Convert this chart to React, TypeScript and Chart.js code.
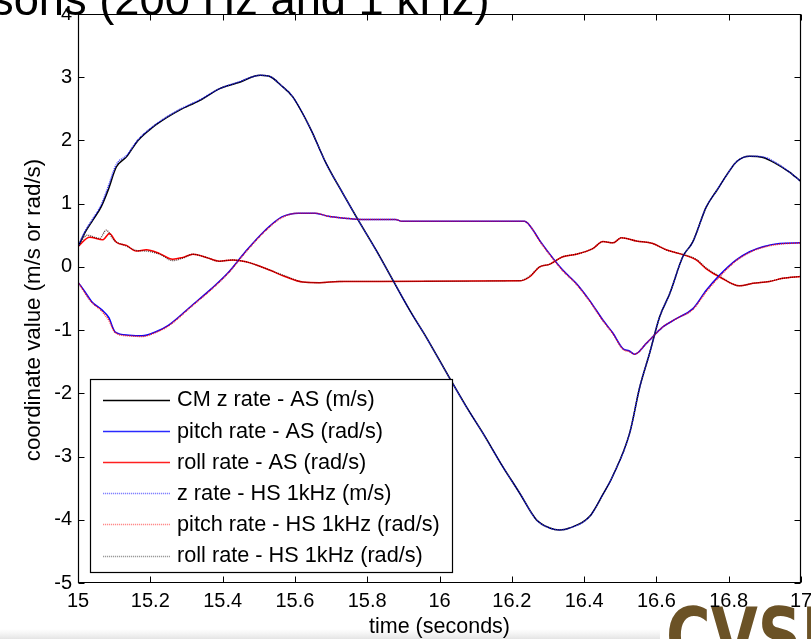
import { useEffect, useRef } from "react";
import { Chart, registerables } from "chart.js";

Chart.register(...registerables);

type Pt = [number, number];

// Axis ticks
const xTicks = [15, 15.2, 15.4, 15.6, 15.8, 16, 16.2, 16.4, 16.6, 16.8, 17];
const yTicks = [-5, -4, -3, -2, -1, 0, 1, 2, 3, 4];

// Rates sampled at 200 Hz (AS), time in seconds
const zRateAS: Pt[] = [
  [15.0, 0.32], [15.02, 0.55], [15.041, 0.74], [15.064, 0.95], [15.083, 1.21],
  [15.106, 1.58], [15.134, 1.74], [15.166, 2.0], [15.207, 2.21], [15.245, 2.36],
  [15.281, 2.48], [15.336, 2.63], [15.392, 2.82], [15.447, 2.92], [15.49, 3.02],
  [15.505, 3.03], [15.535, 3.0], [15.56, 2.88], [15.594, 2.69], [15.641, 2.21],
  [15.687, 1.63], [15.733, 1.16], [15.77, 0.79], [15.825, 0.26], [15.871, -0.21],
  [15.917, -0.68], [15.963, -1.11], [16.028, -1.76], [16.074, -2.21], [16.12, -2.63],
  [16.175, -3.16], [16.222, -3.58], [16.268, -4.0], [16.305, -4.13], [16.332, -4.16],
  [16.36, -4.13], [16.415, -3.95], [16.452, -3.6], [16.48, -3.3], [16.526, -2.63],
  [16.554, -1.9], [16.581, -1.37], [16.609, -0.79], [16.637, -0.42], [16.673, 0.16],
  [16.701, 0.4], [16.738, 0.95], [16.766, 1.2], [16.793, 1.44], [16.821, 1.66],
  [16.858, 1.75], [16.895, 1.73], [16.932, 1.63], [16.968, 1.5], [17.0, 1.35],
];

const pitchRateAS: Pt[] = [
  [15.0, -0.24], [15.02, -0.4], [15.038, -0.55], [15.066, -0.68], [15.085, -0.8],
  [15.103, -1.03], [15.14, -1.08], [15.177, -1.09], [15.214, -1.03], [15.251, -0.92],
  [15.315, -0.61], [15.37, -0.34], [15.417, -0.08], [15.463, 0.24], [15.518, 0.58],
  [15.564, 0.79], [15.61, 0.85], [15.656, 0.85], [15.693, 0.8], [15.739, 0.77],
  [15.785, 0.75], [15.878, 0.75], [15.896, 0.72], [16.235, 0.72], [16.249, 0.66],
  [16.277, 0.42], [16.304, 0.21], [16.341, -0.05], [16.378, -0.26], [16.415, -0.53],
  [16.452, -0.84], [16.48, -1.05], [16.507, -1.29], [16.525, -1.33], [16.54, -1.38],
  [16.572, -1.21], [16.618, -0.95], [16.655, -0.82], [16.701, -0.66], [16.738, -0.37],
  [16.775, -0.13], [16.821, 0.11], [16.858, 0.24], [16.895, 0.32], [16.941, 0.37],
  [17.0, 0.38],
];

const rollRateAS: Pt[] = [
  [15.0, 0.32], [15.032, 0.47], [15.069, 0.43], [15.087, 0.53], [15.106, 0.39],
  [15.134, 0.34], [15.161, 0.25], [15.189, 0.27], [15.226, 0.21], [15.262, 0.12],
  [15.29, 0.15], [15.318, 0.2], [15.355, 0.15], [15.391, 0.09], [15.428, 0.11],
  [15.465, 0.08], [15.521, -0.03], [15.576, -0.16], [15.622, -0.24], [15.668, -0.25],
  [15.724, -0.23], [16.221, -0.22], [16.249, -0.16], [16.277, 0.0], [16.304, 0.04],
  [16.341, 0.16], [16.378, 0.2], [16.424, 0.29], [16.452, 0.4], [16.48, 0.38],
  [16.503, 0.46], [16.544, 0.41], [16.59, 0.37], [16.627, 0.27], [16.664, 0.21],
  [16.71, 0.11], [16.738, -0.03], [16.775, -0.16], [16.83, -0.3], [16.867, -0.26],
  [16.913, -0.23], [16.95, -0.18], [17.0, -0.15],
];

// Same rates sampled at 1 kHz (HS)
const zRateHS: Pt[] = [
  [15.0, 0.32], [15.02, 0.57], [15.041, 0.76], [15.064, 0.98], [15.083, 1.26],
  [15.106, 1.62], [15.134, 1.76], [15.166, 2.01], [15.207, 2.22], [15.245, 2.37],
  [15.281, 2.49], [15.336, 2.64], [15.392, 2.82], [15.447, 2.93], [15.49, 3.02],
  [15.505, 3.03], [15.535, 3.0], [15.56, 2.88], [15.594, 2.69], [15.641, 2.21],
  [15.687, 1.63], [15.733, 1.16], [15.77, 0.79], [15.825, 0.26], [15.871, -0.21],
  [15.917, -0.68], [15.963, -1.11], [16.028, -1.76], [16.074, -2.21], [16.12, -2.63],
  [16.175, -3.16], [16.222, -3.58], [16.268, -4.0], [16.305, -4.13], [16.332, -4.16],
  [16.36, -4.13], [16.415, -3.95], [16.452, -3.6], [16.48, -3.3], [16.526, -2.63],
  [16.554, -1.9], [16.581, -1.37], [16.609, -0.79], [16.637, -0.42], [16.673, 0.16],
  [16.701, 0.4], [16.738, 0.95], [16.766, 1.2], [16.793, 1.44], [16.821, 1.66],
  [16.858, 1.75], [16.895, 1.74], [16.932, 1.64], [16.968, 1.5], [17.0, 1.35],
];

const pitchRateHS: Pt[] = [
  [15.0, -0.24], [15.02, -0.42], [15.038, -0.56], [15.066, -0.7], [15.085, -0.84],
  [15.103, -1.04], [15.14, -1.09], [15.177, -1.1], [15.214, -1.04], [15.251, -0.93],
  [15.315, -0.62], [15.37, -0.35], [15.417, -0.09], [15.463, 0.23], [15.518, 0.57],
  [15.564, 0.78], [15.61, 0.85], [15.656, 0.85], [15.693, 0.8], [15.739, 0.77],
  [15.785, 0.75], [15.878, 0.75], [15.896, 0.72], [16.235, 0.72], [16.249, 0.66],
  [16.277, 0.41], [16.304, 0.2], [16.341, -0.06], [16.378, -0.27], [16.415, -0.54],
  [16.452, -0.85], [16.48, -1.06], [16.507, -1.3], [16.525, -1.34], [16.54, -1.38],
  [16.572, -1.21], [16.618, -0.95], [16.655, -0.82], [16.701, -0.67], [16.738, -0.39],
  [16.775, -0.15], [16.821, 0.1], [16.858, 0.23], [16.895, 0.31], [16.941, 0.36],
  [17.0, 0.38],
];

const rollRateHS: Pt[] = [
  [15.0, 0.32], [15.025, 0.5], [15.06, 0.45], [15.078, 0.58], [15.1, 0.42],
  [15.134, 0.33], [15.161, 0.26], [15.189, 0.25], [15.226, 0.2], [15.262, 0.1],
  [15.29, 0.14], [15.318, 0.2], [15.355, 0.15], [15.391, 0.09], [15.428, 0.11],
  [15.465, 0.08], [15.521, -0.03], [15.576, -0.15], [15.622, -0.24], [15.668, -0.25],
  [15.724, -0.23], [16.221, -0.22], [16.249, -0.15], [16.277, 0.0], [16.304, 0.04],
  [16.341, 0.16], [16.378, 0.2], [16.424, 0.29], [16.452, 0.4], [16.48, 0.38],
  [16.503, 0.46], [16.544, 0.41], [16.59, 0.37], [16.627, 0.27], [16.664, 0.21],
  [16.71, 0.12], [16.738, -0.02], [16.775, -0.15], [16.83, -0.3], [16.867, -0.26],
  [16.913, -0.23], [16.95, -0.18], [17.0, -0.15],
];

const FONT = "'Liberation Sans', Arial, Helvetica, sans-serif";

const toXY = (pts: Pt[]) => pts.map(([x, y]) => ({ x, y }));

const series = [
  { label: "CM z rate - AS (m/s)", data: zRateAS, color: "#000000", width: 1.5, dash: [] as number[], legendColor: "#000000", order: 2 },
  { label: "pitch rate - AS (rad/s)", data: pitchRateAS, color: "#0000ff", width: 1.5, dash: [], legendColor: "#2a2aff", order: 2 },
  { label: "roll rate - AS (rad/s)", data: rollRateAS, color: "#ff0000", width: 1.5, dash: [], legendColor: "#ff2020", order: 2 },
  { label: "z rate - HS 1kHz (m/s)", data: zRateHS, color: "rgba(30,30,255,0.95)", width: 1.5, dash: [1, 1], legendColor: "#8080ff", order: 1 },
  { label: "pitch rate - HS 1kHz (rad/s)", data: pitchRateHS, color: "rgba(255,20,20,0.95)", width: 1.5, dash: [1, 1], legendColor: "#ff8a8a", order: 1 },
  { label: "roll rate - HS 1kHz (rad/s)", data: rollRateHS, color: "rgba(40,0,0,0.75)", width: 1.4, dash: [1, 1], legendColor: "#9a9a9a", order: 1 },
];

const decorations = {
  id: "decorations",
  beforeDraw(chart: any) {
    const { ctx, width, height } = chart;
    ctx.save();
    ctx.fillStyle = "#ffffff";
    ctx.fillRect(0, 0, width, height);

    // faint slide footer strip
    const band = ctx.createLinearGradient(0, 629, 0, 639);
    band.addColorStop(0, "rgba(235,235,235,0)");
    band.addColorStop(1, "rgba(228,228,228,1)");
    ctx.fillStyle = band;
    ctx.fillRect(0, 629, 660, 10);

    // CVS logo, lower right
    ctx.font = `bold 78px 'DejaVu Sans', sans-serif`;
    ctx.textBaseline = "alphabetic";
    ctx.textAlign = "left";
    const g = ctx.createLinearGradient(660, 590, 760, 680);
    const stops = ["#6b5226", "#b3955c", "#5a431c", "#c2a46a", "#4e3a16", "#a8884f", "#604820", "#b89a62", "#503b18"];
    stops.forEach((c, i) => g.addColorStop(i / (stops.length - 1), c));
    ctx.fillStyle = g;
    ctx.save();
    ctx.translate(666, 664);
    ctx.scale(0.78, 1);
    ctx.fillText("CVSL", 0, 0);
    ctx.restore();
    ctx.restore();
  },
  afterDatasetsDraw(chart: any) {
    const { ctx, chartArea: a, scales } = chart;
    const xs = scales.x;
    const ys = scales.y;
    const L = Math.round(a.left) + 0.5;
    const R = Math.round(a.right) - 0.5;
    const T = Math.round(a.top) + 0.5;
    const B = Math.round(a.bottom) - 0.5;
    ctx.save();
    ctx.strokeStyle = "#000";
    ctx.lineWidth = 1.2;
    ctx.beginPath();
    ctx.moveTo(L, T); ctx.lineTo(R, T); ctx.lineTo(R, B); ctx.lineTo(L, B); ctx.closePath();
    ctx.stroke();

    const tl = 6;
    ctx.lineWidth = 1;
    ctx.beginPath();
    xTicks.forEach((v) => {
      const px = Math.round(xs.getPixelForValue(v)) + 0.5;
      ctx.moveTo(px, B); ctx.lineTo(px, B - tl);
      ctx.moveTo(px, T); ctx.lineTo(px, T + tl);
    });
    yTicks.forEach((v) => {
      const py = Math.round(ys.getPixelForValue(v)) + 0.5;
      ctx.moveTo(L, py); ctx.lineTo(L + tl, py);
      ctx.moveTo(R, py); ctx.lineTo(R - tl, py);
    });
    ctx.stroke();

    // legend
    const bx = 90.5, by = 379.5, bw = 362, bh = 193;
    ctx.fillStyle = "#fff";
    ctx.fillRect(bx, by, bw, bh);
    ctx.strokeStyle = "#000";
    ctx.lineWidth = 1.2;
    ctx.strokeRect(bx, by, bw, bh);
    ctx.font = `21.7px ${FONT}`;
    ctx.textBaseline = "middle";
    ctx.textAlign = "left";
    chart.data.datasets.forEach((ds: any, i: number) => {
      const s = series[i];
      const cy = 399.5 + i * 31.2;
      ctx.strokeStyle = s.legendColor;
      ctx.lineWidth = 1.4;
      ctx.setLineDash(s.dash.length ? [1.2, 0.8] : []);
      ctx.beginPath();
      ctx.moveTo(103, Math.round(cy) + 0.5);
      ctx.lineTo(170, Math.round(cy) + 0.5);
      ctx.stroke();
      ctx.setLineDash([]);
      ctx.fillStyle = "#000";
      ctx.fillText(ds.label, 177, cy + 1);
    });

    // axis titles
    ctx.fillStyle = "#000";
    ctx.font = `21.5px ${FONT}`;
    ctx.textAlign = "center";
    ctx.textBaseline = "middle";
    ctx.fillText("time (seconds)", (a.left + a.right) / 2, 627);
    ctx.font = `22.3px ${FONT}`;
    ctx.save();
    ctx.translate(34, 310);
    ctx.rotate(-Math.PI / 2);
    ctx.fillText("coordinate value (m/s or rad/s)", 0, 0);
    ctx.restore();

    // slide heading, running off the top edge
    ctx.font = `45.3px ${FONT}`;
    ctx.textAlign = "left";
    ctx.textBaseline = "alphabetic";
    ctx.fillText("sons (200 Hz and 1 kHz)", -9, 14.5);
    ctx.restore();
  },
};

export default function App() {
  const ref = useRef<HTMLCanvasElement>(null);

  useEffect(() => {
    document.body.style.margin = "0";
    const canvas = ref.current;
    if (!canvas) return;
    const chart = new Chart(canvas, {
      type: "line",
      data: {
        datasets: series.map((s) => ({
          label: s.label,
          data: toXY(s.data),
          borderColor: s.color,
          backgroundColor: s.color,
          borderWidth: s.width,
          borderDash: s.dash,
          pointRadius: 0,
          fill: false,
          cubicInterpolationMode: "monotone" as const,
          order: s.order,
        })),
      },
      options: {
        animation: false,
        responsive: false,
        devicePixelRatio: 1,
        layout: { padding: { left: 0, right: 10, top: 14, bottom: 0 } },
        plugins: { legend: { display: false }, tooltip: { enabled: false }, title: { display: false } },
        scales: {
          x: {
            type: "linear",
            min: 15,
            max: 17,
            grid: { display: false, drawTicks: false },
            border: { display: false },
            afterBuildTicks: (scale: any) => {
              scale.ticks = xTicks.map((v) => ({ value: v }));
            },
            afterFit: (scale: any) => {
              scale.height = 56;
              scale.paddingLeft = 0;
              scale.paddingRight = 0;
            },
            ticks: {
              autoSkip: false,
              maxRotation: 0,
              padding: 6,
              color: "#000",
              font: { family: FONT, size: 20 },
              callback: (v: any) => String(Math.round(Number(v) * 10) / 10),
            },
          },
          y: {
            type: "linear",
            min: -5,
            max: 4,
            grid: { display: false, drawTicks: false },
            border: { display: false },
            afterBuildTicks: (scale: any) => {
              scale.ticks = yTicks.map((v) => ({ value: v }));
            },
            afterFit: (scale: any) => {
              scale.width = 78;
              scale.paddingTop = 0;
              scale.paddingBottom = 0;
            },
            ticks: {
              autoSkip: false,
              padding: 6,
              color: "#000",
              font: { family: FONT, size: 20 },
              callback: (v: any) => String(v),
            },
          },
        },
      },
      plugins: [decorations],
    });
    return () => chart.destroy();
  }, []);

  return (
    <div style={{ width: 811, height: 639, background: "#fff" }}>
      <canvas ref={ref} width={811} height={639} style={{ display: "block" }} />
    </div>
  );
}
